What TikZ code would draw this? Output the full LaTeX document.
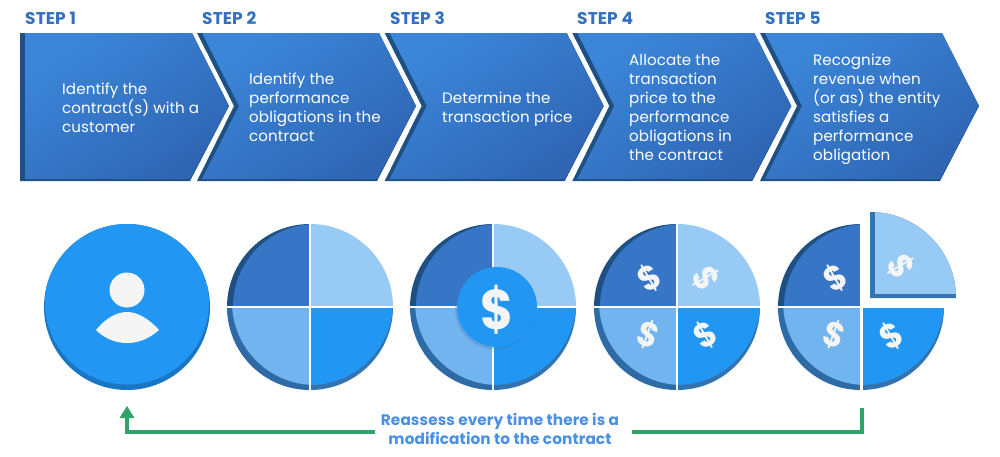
\documentclass[tikz,border=0pt]{standalone}
\usepackage{fontspec}
\setmainfont{Poppins}[LetterSpace=0.6]
\usetikzlibrary{calc}
\definecolor{stepblue}{HTML}{3470BE}
\definecolor{chevlight}{HTML}{3B86D9}
\definecolor{chevdark}{HTML}{2F65B3}
\definecolor{chevshadow}{HTML}{1F5083}
\definecolor{qdark}{HTML}{3776C6}
\definecolor{qpale}{HTML}{97CBF5}
\definecolor{qmid}{HTML}{72B4F0}
\definecolor{qbright}{HTML}{2196F3}
\definecolor{shadeb}{HTML}{2E6BA6}
\definecolor{shadec}{HTML}{3373B0}
\definecolor{discdark}{HTML}{1976C5}
\definecolor{iconwhite}{HTML}{F5F5F5}
\definecolor{loopgreen}{HTML}{2FA56C}
\definecolor{labelblue}{HTML}{4A90E2}
\tikzset{
  steplabel/.style={text=stepblue,font=\fontsize{17}{20}\selectfont\bfseries,anchor=west,inner sep=0pt},
  chevtext/.style={text=white,font=\fontsize{15.1}{19}\selectfont,align=left,anchor=west,inner sep=0pt},
  chevface/.style={left color=chevlight,right color=chevdark,shading angle=35},
  smalldollar/.style={text=iconwhite,font=\fontsize{34}{34}\selectfont\bfseries,inner sep=0pt},
  loopline/.style={draw=loopgreen,line width=3.4pt},
  looplabel/.style={text=labelblue,font=\fontsize{15.3}{19}\selectfont\bfseries,align=center,inner sep=6pt},
}
\newcommand{\smdollar}{\scalebox{0.92}[1]{\$}}
\newcommand{\chevnotched}[1]{%
  \fill[chevshadow] (#1,33) -- (#1+182,33) -- (#1+219,106) -- (#1+180,181) -- (#1,181) -- (#1+37,106) -- cycle;
  \shade[chevface] (#1+5,33) -- (#1+182,33) -- (#1+219,106) -- (#1+180,179) -- (#1+5,179) -- (#1+42,106) -- cycle;
}
\newcommand{\qUL}[3]{\begin{scope}\clip (#1-84,#2-84) rectangle (#1,#2);
  \fill[chevshadow] (#1,#2) circle[radius=83];
  \clip (#1,#2) circle[radius=83];
  \fill[#3] (#1+6,#2) circle[radius=83];\end{scope}}
\newcommand{\qLL}[2]{\begin{scope}\clip (#1-84,#2) rectangle (#1,#2+84);
  \fill[shadeb] (#1,#2) circle[radius=83];
  \clip (#1,#2) circle[radius=83];
  \fill[qmid] (#1+5,#2-5) circle[radius=83];\end{scope}}
\newcommand{\qLR}[2]{\begin{scope}\clip (#1,#2) rectangle (#1+84,#2+84);
  \fill[shadec] (#1,#2) circle[radius=83];
  \clip (#1,#2) circle[radius=83];
  \fill[qbright] (#1,#2-5) circle[radius=83];\end{scope}}
\newcommand{\qUR}[2]{\begin{scope}\clip (#1,#2-84) rectangle (#1+84,#2);
  \fill[qpale] (#1,#2) circle[radius=83];\end{scope}}
\newcommand{\crosslines}[1]{\draw[white,line width=1.6pt] (#1,222) -- (#1,392) (#1-85,307) -- (#1+85,307);}
\begin{document}
\begin{tikzpicture}[x=1pt,y=-1pt]
\useasboundingbox (0,0) rectangle (1000,456);
\fill[white] (0,0) rectangle (1000,456);
% first chevron
\fill[chevshadow] (20,33) -- (192,33) -- (229,106) -- (190,181) -- (20,181) -- cycle;
\shade[chevface] (25,33) -- (192,33) -- (229,106) -- (190,179) -- (25,179) -- cycle;
\chevnotched{197}
\chevnotched{384.7}
\chevnotched{572.3}
\chevnotched{760}
\node[steplabel] (s1) at (25,18) {STEP 1};
\node[steplabel] (s2) at (202,18) {STEP 2};
\node[steplabel] (s3) at (390,18) {STEP 3};
\node[steplabel] (s4) at (577,18) {STEP 4};
\node[steplabel] (s5) at (765,18) {STEP 5};
\node[chevtext] (t1) at (62,107.5) {Identify the\\contract(s) with a\\customer};
\node[chevtext] (t2) at (249,107.5) {Identify the\\performance\\obligations in the\\contract};
\node[chevtext] (t3) at (442,109.5) {Determine the\\transaction price};
\node[chevtext] (t4) at (629,107.5) {Allocate the\\transaction\\price to the\\performance\\obligations in\\the contract};
\node[chevtext] (t5) at (813,109.5) {Recognize\\revenue when\\(or as) the entity\\satisfies a\\performance\\obligation};
% customer disc
\fill[discdark] (127,307) circle[radius=83];
\begin{scope}
\clip (127,307) circle[radius=83];
\fill[qbright] (127,302.5) circle[radius=82];
\end{scope}
\fill[iconwhite] (127,290) circle[radius=17.5];
\fill[iconwhite] (96,330) .. controls (105,319) and (116,312) .. (127,312) .. controls (138,312) and (149,319) .. (159,330) .. controls (149,339) and (138,343) .. (127,343) .. controls (116,343) and (105,339) .. (96,330) -- cycle;
% disc 2
\qUL{310}{307}{qdark}\qUR{310}{307}\qLL{310}{307}\qLR{310}{307}\crosslines{310}
% disc 3
\qUL{493}{307}{qdark}\qUR{493}{307}\qLL{493}{307}\qLR{493}{307}\crosslines{493}
\fill[shadec,opacity=.25] (495.5,309) circle[radius=40.5];
\fill[qbright] (497,307) circle[radius=40];
\node[text=iconwhite,font=\fontsize{56}{56}\selectfont\bfseries,inner sep=0pt] (d3) at (497,310) {\scalebox{0.9}[1]{\$}};
% disc 4
\qUL{677}{307}{qdark}\qUR{677}{307}\qLL{677}{307}\qLR{677}{307}\crosslines{677}
\node[smalldollar,rotate=30] (d41) at (649,278) {\smdollar};
\node[smalldollar,rotate=-60] (d42) at (706,278) {\smdollar};
\node[smalldollar,rotate=-20] (d43) at (648,335) {\smdollar};
\node[smalldollar,rotate=30] (d44) at (705,335) {\smdollar};
% disc 5
\qUL{861}{307}{qdark}\qLL{861}{307}\qLR{861}{307}
\fill[white] (860,215) rectangle (862.5,392);
\fill[white] (776,306) rectangle (950,308);
\fill[shadec] (870,212) -- (870,298) -- (956,298) arc[start angle=0,end angle=-90,radius=86] -- cycle;
\begin{scope}
\clip (870,212) -- (870,298) -- (956,298) arc[start angle=0,end angle=-90,radius=86] -- cycle;
\fill[qpale] (875,212) rectangle (956,294);
\end{scope}
\node[smalldollar,rotate=30] (d51) at (835,278) {\smdollar};
\node[smalldollar,rotate=-60] (d52) at (901,266) {\smdollar};
\node[smalldollar,rotate=-20] (d53) at (834,335) {\smdollar};
\node[smalldollar,rotate=30] (d54) at (891,336) {\smdollar};
% loop
\node[looplabel] (loop) at (500,429) {Reassess every time there is a\\modification to the contract};
\coordinate (loopL) at (127,432);
\coordinate (loopTip) at (127,417);
\coordinate (loopR) at (862,432);
\coordinate (loopEnd) at (862,408);
\draw[loopline] (loopL -| loop.west) -- (loopL) -- (loopTip);
\draw[loopline] ($(loopL -| loop.east)+(7,0)$) -- (loopR) -- (loopEnd);
\fill[loopgreen] (127,406) -- (134.5,418) -- (119.5,418) -- cycle;
\end{tikzpicture}
\end{document}
